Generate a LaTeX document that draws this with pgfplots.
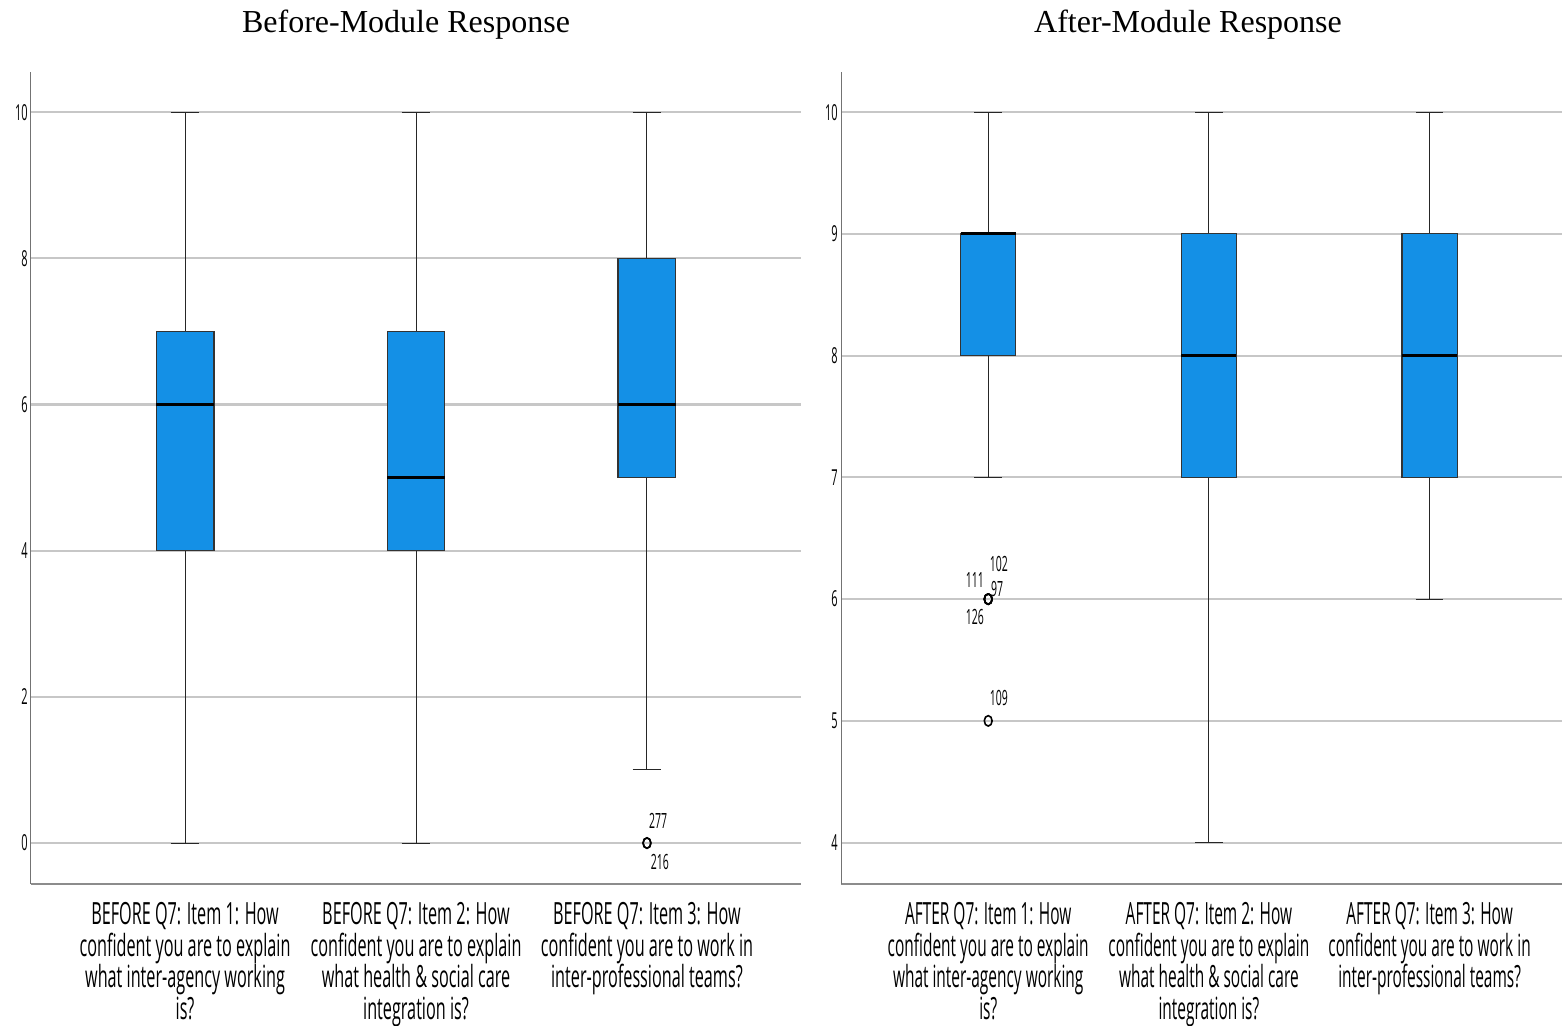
\documentclass[border=0pt]{standalone}
\usepackage{pgfplots}
\pgfplotsset{compat=1.18}
\usepgfplotslibrary{statistics}
\usepackage{fontspec}
\setmainfont{Liberation Serif}
\newfontfamily\cond[FakeStretch=0.5]{Open Sans}
\newfontfamily\condl[FakeStretch=0.53]{Open Sans}
\newfontfamily\condr[FakeStretch=0.505]{Open Sans}
\definecolor{boxblue}{RGB}{20,144,230}
\begin{document}
\begin{tikzpicture}[x=1pt,y=1pt]
\useasboundingbox (0,0) rectangle (781,513);
\pgfplotsset{
  common/.style={
    scale only axis,
    anchor=south west,
    height=406pt,
    axis x line*=bottom,
    axis y line*=left,
    x axis line style={-, draw=black!45, line width=1.2pt},
    y axis line style={-, draw=black!55, line width=0.5pt},
    ymajorgrids,
    major grid style={line width=1.1pt, black!22},
    major tick length=0pt,
    xmin=-0.667,
    xtick={0,1,2},
    /pgf/number format/assume math mode=true,
    yticklabel style={font=\cond\fontsize{11}{12}\selectfont, inner sep=1.5pt},
    xticklabel style={align=center, anchor=north, inner sep=2pt, yshift=-7pt},
    boxplot/draw direction=y,
    boxplot/box extend=0.25,
    boxplot/whisker extend=0.125,
    boxplot/every median/.style={line width=1.6pt, black},
    boxplot/every whisker/.style={line width=0.5pt, black!85},
    boxplot/every box/.style={fill=boxblue, draw=black!80, line width=0.6pt},
  },
  bp/.style={mark=o, mark size=2.6pt, mark options={xscale=0.75, line width=0.8pt, draw=black}},
}
\begin{axis}[common, at={(15.5pt,71pt)}, width=385pt,
  xmax=2.667, ymin=-0.56, ymax=10.55, ytick={0,2,4,6,8,10},
  xticklabel style={font=\condl\fontsize{15.3}{15.75}\selectfont},
  xticklabels={{BEFORE Q7: Item 1: How\\confident you are to explain\\what inter-agency working\\is?},
               {BEFORE Q7: Item 2: How\\confident you are to explain\\what health \& social care\\integration is?},
               {BEFORE Q7: Item 3: How\\confident you are to work in\\inter-professional teams?}}]
\addplot[bp, boxplot prepared={draw position=0, lower whisker=0, lower quartile=4, median=6, upper quartile=7, upper whisker=10}] coordinates {};
\addplot[bp, boxplot prepared={draw position=1, lower whisker=0, lower quartile=4, median=5, upper quartile=7, upper whisker=10}] coordinates {};
\addplot[bp, boxplot prepared={draw position=2, lower whisker=1, lower quartile=5, median=6, upper quartile=8, upper whisker=10}] coordinates {(2,0) (2,0)};
\node[font=\cond\fontsize{10.5}{12}\selectfont] at (axis cs:2.048,0.30) {277};
\node[font=\cond\fontsize{10.5}{12}\selectfont] at (axis cs:2.056,-0.26) {216};
\end{axis}
\begin{axis}[common, at={(420.5pt,71pt)}, width=360.5pt,
  xmax=2.6, ymin=3.66, ymax=10.33, ytick={4,5,6,7,8,9,10},
  xticklabel style={font=\condr\fontsize{15.3}{15.75}\selectfont},
  xticklabels={{AFTER Q7: Item 1: How\\confident you are to explain\\what inter-agency working\\is?},
               {AFTER Q7: Item 2: How\\confident you are to explain\\what health \& social care\\integration is?},
               {AFTER Q7: Item 3: How\\confident you are to work in\\inter-professional teams?}}]
\addplot[bp, boxplot prepared={draw position=0, lower whisker=7, lower quartile=8, median=9, upper quartile=9, upper whisker=10}] coordinates {(0,6) (0,6) (0,6) (0,6) (0,5)};
\addplot[bp, boxplot prepared={draw position=1, lower whisker=4, lower quartile=7, median=8, upper quartile=9, upper whisker=10}] coordinates {};
\addplot[bp, boxplot prepared={draw position=2, lower whisker=6, lower quartile=7, median=8, upper quartile=9, upper whisker=10}] coordinates {};
\node[font=\cond\fontsize{10.5}{12}\selectfont] at (axis cs:0.048,6.29) {102};
\node[font=\cond\fontsize{10.5}{12}\selectfont] at (axis cs:-0.06,6.16) {111};
\node[font=\cond\fontsize{10.5}{12}\selectfont] at (axis cs:0.040,6.08) {97};
\node[font=\cond\fontsize{10.5}{12}\selectfont] at (axis cs:-0.06,5.85) {126};
\node[font=\cond\fontsize{10.5}{12}\selectfont] at (axis cs:0.048,5.19) {109};
\end{axis}
\node[font=\fontsize{16}{19}\selectfont] at (203pt,500.5pt) {Before-Module Response};
\node[font=\fontsize{16}{19}\selectfont] at (594pt,500.5pt) {After-Module Response};
\end{tikzpicture}
\end{document}
